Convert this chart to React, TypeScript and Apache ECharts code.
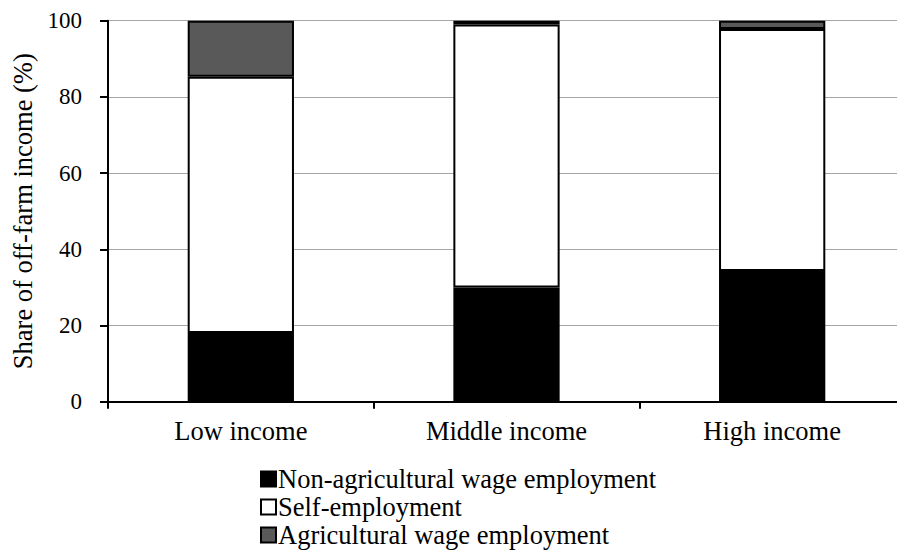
import React, { useEffect, useRef } from "react";
import * as echarts from "echarts";

const categories = ["Low income", "Middle income", "High income"];
const seriesNames = [
  "Non-agricultural wage employment",
  "Self-employment",
  "Agricultural wage employment",
];
const nonAgWage = [18, 30, 34.3];
const selfEmp = [67.3, 69, 63.5];
const agWage = [14.7, 1, 2.2];
const yTicks = { min: 0, max: 100, interval: 20 };

const FONT = "Liberation Serif, Times New Roman, DejaVu Serif";

export default function App() {
  const ref = useRef<HTMLDivElement>(null);
  useEffect(() => {
    if (!ref.current) return;
    const chart = echarts.init(ref.current, undefined, { renderer: "svg" });
    const colors = ["#000000", "#ffffff", "#595959"];
    const data = [nonAgWage, selfEmp, agWage];
    chart.setOption({
      animation: false,
      backgroundColor: "#ffffff",
      textStyle: { fontFamily: FONT, color: "#000" },
      grid: {
        left: 108,
        right: -8,
        top: 20.7,
        bottom: 154.3,
        containLabel: false,
        outerBoundsMode: "none",
      },
      legend: {
        orient: "vertical",
        left: 260,
        top: 465.5,
        padding: 0,
        itemWidth: 15,
        itemHeight: 15,
        itemGap: 1,
        icon: "rect",
        textStyle: {
          fontFamily: FONT,
          fontSize: 26.5,
          lineHeight: 27,
          color: "#000",
          padding: [0, 0, 0, -3],
        },
        data: seriesNames,
      },
      xAxis: {
        type: "category",
        data: categories,
        boundaryGap: true,
        axisLine: { lineStyle: { color: "#000", width: 2 } },
        axisTick: { show: true, length: 7, lineStyle: { color: "#000", width: 2 } },
        axisLabel: { fontFamily: FONT, fontSize: 26.5, color: "#000", margin: 16 },
        splitLine: { show: false },
      },
      yAxis: {
        type: "value",
        min: yTicks.min,
        max: yTicks.max,
        interval: yTicks.interval,
        name: "Share of off-farm income (%)",
        nameLocation: "middle",
        nameGap: 71,
        nameTextStyle: { fontFamily: FONT, fontSize: 26.5, color: "#000" },
        axisLine: { show: true, lineStyle: { color: "#000", width: 2 } },
        axisTick: { show: true, length: 8, lineStyle: { color: "#000", width: 2 } },
        axisLabel: { fontFamily: FONT, fontSize: 23, color: "#000", margin: 26 },
        splitLine: { show: true, lineStyle: { color: "#a6a6a6", width: 1 } },
      },
      series: seriesNames.map((name, i) => ({
        name,
        type: "bar",
        stack: "total",
        barWidth: "40%",
        data: data[i],
        itemStyle: { color: colors[i], borderColor: "#000", borderWidth: 2 },
      })),
    });
    return () => chart.dispose();
  }, []);
  return <div ref={ref} style={{ width: 897, height: 556, position: "absolute", left: 0, top: 0 }} />;
}
